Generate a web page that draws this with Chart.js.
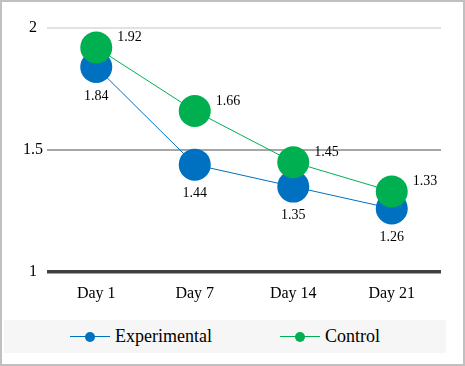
<!DOCTYPE html>
<html>
<head>
<meta charset="utf-8">
<script src="https://cdn.jsdelivr.net/npm/chart.js@4"></script>
<style>
  body { margin: 0; }
  #wrap {
    position: relative; width: 465px; height: 366px; box-sizing: border-box;
    border: 2px solid #c0c0c0; background: #fff;
  }
  #chart { position: absolute; left: -2px; top: -2px; }
  #legend {
    position: absolute; left: 2px; top: 318px; width: 442px; height: 33px;
    background: #f6f6f6; display: flex; justify-content: center; align-items: center;
    font-family: "Liberation Serif", "Times New Roman", serif; font-size: 18px; color: #000;
  }
  .item { display: flex; align-items: center; margin: 0 34px; }
  .sym { position: relative; width: 40px; height: 12px; margin-right: 5px; }
  .sym .ln { position: absolute; left: 0; right: 0; top: 5.5px; height: 1px; }
  .sym .dot { position: absolute; left: 15px; top: 1px; width: 10px; height: 10px; border-radius: 50%; }
</style>
</head>
<body>
<div id="wrap">
  <canvas id="chart" width="465" height="366"></canvas>
  <div id="legend"></div>
</div>
<script>
// Dados do gráfico
const categories = ['Day 1', 'Day 7', 'Day 14', 'Day 21'];
const experimental = [1.84, 1.44, 1.35, 1.26];
const control = [1.92, 1.66, 1.45, 1.33];
const yTicks = [1, 1.5, 2];

const blue = '#0070c0';
const green = '#00b050';
const serif = '"Liberation Serif", "Times New Roman", serif';

// rótulos de valor (azul embaixo, verde à direita)
const valueLabels = {
    id: 'valueLabels',
    afterDatasetsDraw(chart) {
        const c = chart.ctx;
        c.save();
        c.font = '14px ' + serif;
        c.fillStyle = '#000';
        chart.data.datasets.forEach((ds, i) => {
            const meta = chart.getDatasetMeta(i);
            meta.data.forEach((pt, j) => {
                const txt = ds.data[j].toFixed(2);
                if (ds.label === 'Experimental') {
                    c.textAlign = 'center';
                    c.textBaseline = 'middle';
                    c.fillText(txt, pt.x, pt.y + 29);
                } else {
                    c.textAlign = 'left';
                    c.textBaseline = 'middle';
                    c.fillText(txt, pt.x + 21, pt.y - 10);
                }
            });
        });
        c.restore();
    }
};

const ctx = document.getElementById('chart').getContext('2d');
const chart = new Chart(ctx, {
    type: 'line',
    data: {
        labels: categories,
        datasets: [
            {
                label: 'Experimental',
                data: experimental,
                borderColor: blue,
                backgroundColor: blue,
                borderWidth: 1,
                pointRadius: 16,
                pointBorderWidth: 0,
                order: 2
            },
            {
                label: 'Control',
                data: control,
                borderColor: green,
                backgroundColor: green,
                borderWidth: 1,
                pointRadius: 16,
                pointBorderWidth: 0,
                order: 1
            }
        ]
    },
    options: {
        responsive: false,
        animation: false,
        layout: { padding: { top: 28, right: 24, left: 0, bottom: 52 } },
        plugins: { legend: { display: false }, tooltip: { enabled: false } },
        scales: {
            x: {
                offset: true,
                grid: { display: false },
                border: { display: false },
                ticks: { color: '#000', font: { family: serif, size: 16 }, padding: 4 },
                afterFit: (s) => { s.height = 42; }
            },
            y: {
                min: 1,
                max: 2,
                afterBuildTicks: (s) => { s.ticks = yTicks.map(v => ({ value: v })); },
                grid: {
                    drawTicks: false,
                    color: (c) => c.tick.value === 1 ? '#404040' : (c.tick.value === 1.5 ? '#a6a6a6' : '#e2e2e2'),
                    lineWidth: (c) => c.tick.value === 1 ? 3.5 : 2
                },
                border: { display: false },
                ticks: {
                    color: '#000', font: { family: serif, size: 16 }, crossAlign: 'center', padding: 4,
                    callback: (v) => String(v)
                },
                afterFit: (s) => { s.width = 47; }
            }
        }
    },
    plugins: [valueLabels]
});

// legenda em HTML
const legend = document.getElementById('legend');
chart.data.datasets.forEach(ds => {
    const item = document.createElement('div');
    item.className = 'item';
    item.innerHTML = '<span class="sym"><span class="ln" style="background:' + ds.borderColor +
        '"></span><span class="dot" style="background:' + ds.backgroundColor + '"></span></span>' +
        '<span>' + ds.label + '</span>';
    legend.appendChild(item);
});
</script>
</body>
</html>
